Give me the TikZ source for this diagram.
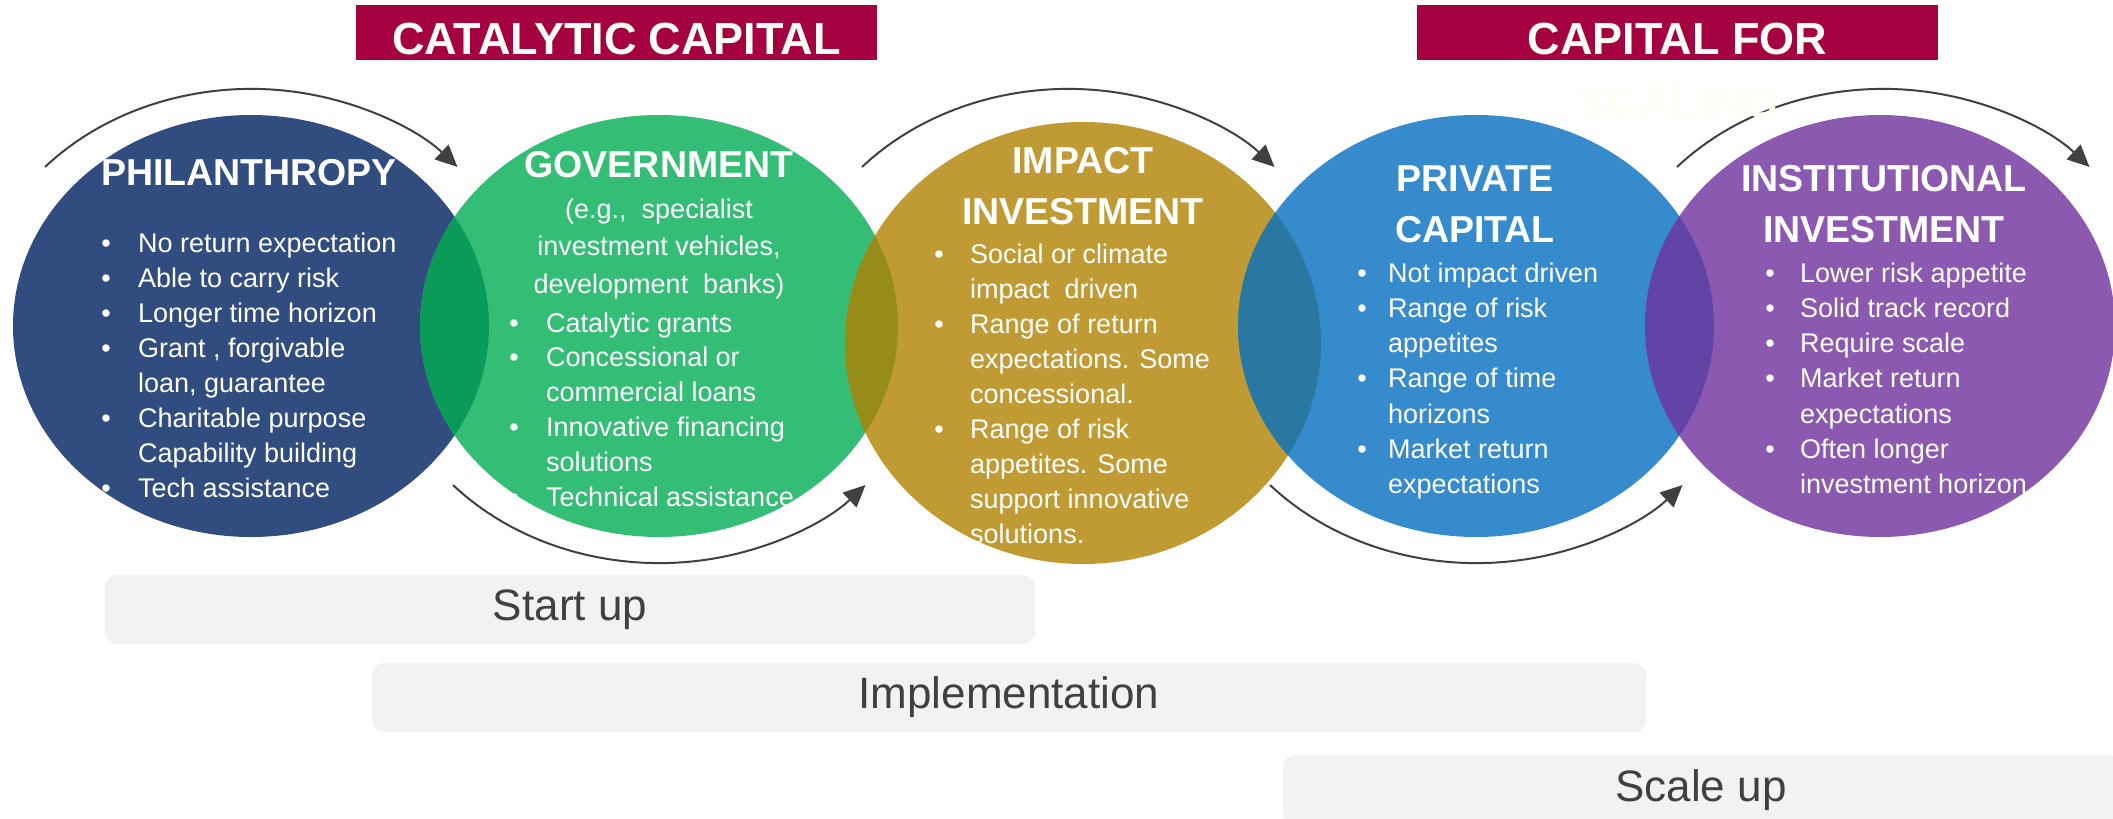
\documentclass[tikz,border=0pt]{standalone}
\usepackage{fontspec}
\setmainfont{Liberation Sans}
\usetikzlibrary{arrows.meta,shapes.geometric}

\definecolor{navyfill}{RGB}{49,76,126}
\definecolor{greenfill}{RGB}{51,189,117}
\definecolor{goldfill}{RGB}{192,155,51}
\definecolor{bluefill}{RGB}{53,139,203}
\definecolor{purplefill}{RGB}{139,90,176}
\definecolor{navygreen}{RGB}{11,155,88}
\definecolor{greengold}{RGB}{152,140,25}
\definecolor{goldblue}{RGB}{40,120,162}
\definecolor{bluepurple}{RGB}{98,67,166}
\definecolor{crimson}{RGB}{165,0,64}
\definecolor{cream}{RGB}{255,255,246}
\definecolor{phasegray}{RGB}{242,242,242}
\definecolor{inkgray}{RGB}{64,64,64}

\tikzset{
  lens/.style={ellipse, inner sep=0pt, draw=none},
  bodytext/.style={inner sep=0pt, text=white, font=\fontsize{27}{32}\selectfont},
  headtext/.style={inner sep=0pt, text=white, font=\fontsize{37.5}{45}\selectfont\bfseries, anchor=base},
  banner/.style={fill=crimson, inner sep=0pt, draw=none, minimum width=521pt, minimum height=55pt},
  bannertext/.style={inner sep=0pt, text=cream, font=\fontsize{45}{54}\selectfont\bfseries, anchor=base},
  phase/.style={fill=phasegray, rounded corners=12pt, inner sep=0pt, text=inkgray, font=\fontsize{44}{52}\selectfont},
  flowarc/.style={draw=inkgray, line width=2pt, -{Triangle[length=22pt,width=20pt]}},
}

% one text column: name, bullet x, text x, first baseline, line pitch, {flag/line,...}
\newcommand\bulletblock[6]{%
  \foreach \lnb/\lnt [count=\ii] in {#6}{%
    \pgfmathsetmacro\lny{#4+(\ii-1)*#5}%
    \node[bodytext, anchor=base west] (#1-\ii) at (#3,\lny) {\lnt};%
    \ifnum\lnb=1 \node[bodytext, anchor=base] (#1-dot\ii) at (#2,\lny) {\textbullet};\fi
  }%
}

\begin{document}
\begin{tikzpicture}[x=1pt, y=-1pt]
\useasboundingbox (0,0) rectangle (2113,819);

% title banners
\node[banner] (catban) at (616.5,32.5) {};
\node[bannertext] (cattxt) at (616.5,54) {CATALYTIC CAPITAL};
\node[banner] (scaleban) at (1677.5,32.5) {};
\node[bannertext] (scaletxt) at (1677.5,54) {CAPITAL FOR};

% the five capital sources
\node[lens, fill=navyfill,   minimum width=476pt, minimum height=422pt] (phil) at (251,326) {};
\node[lens, fill=greenfill,  minimum width=478pt, minimum height=422pt] (gov)  at (659,326) {};
\node[lens, fill=goldfill,   minimum width=476pt, minimum height=442pt] (imp)  at (1083,343) {};
\node[lens, fill=bluefill,   minimum width=476pt, minimum height=422pt] (priv) at (1476,326) {};
\node[lens, fill=purplefill, minimum width=470pt, minimum height=422pt] (inst) at (1880,326) {};

% overlaps between neighbours
\begin{scope}
  \clip (phil.center) ellipse [x radius=238, y radius=211];
  \fill[navygreen] (gov.center) ellipse [x radius=239, y radius=211];
\end{scope}
\begin{scope}
  \clip (gov.center) ellipse [x radius=239, y radius=211];
  \fill[greengold] (imp.center) ellipse [x radius=238, y radius=221];
\end{scope}
\begin{scope}
  \clip (imp.center) ellipse [x radius=238, y radius=221];
  \fill[goldblue] (priv.center) ellipse [x radius=238, y radius=211];
\end{scope}
\begin{scope}
  \clip (priv.center) ellipse [x radius=238, y radius=211];
  \fill[bluepurple] (inst.center) ellipse [x radius=235, y radius=211];
\end{scope}

% headings
\node[headtext] (philhead) at (249,185) {PHILANTHROPY};
\node[headtext] (govhead) at (659,177) {GOVERNMENT};
\node[headtext] (imphead1) at (1083,173) {IMPACT};
\node[headtext] (imphead2) at (1083,224) {INVESTMENT};
\node[headtext] (privhead1) at (1475,191) {PRIVATE};
\node[headtext] (privhead2) at (1475,242) {CAPITAL};
\node[headtext] (insthead1) at (1884,191) {INSTITUTIONAL};
\node[headtext] (insthead2) at (1884,242) {INVESTMENT};

\node[bodytext, anchor=base] (govsub1) at (659,218) {(e.g.,\ \ specialist};
\node[bodytext, anchor=base] (govsub2) at (659,255) {investment vehicles,};
\node[bodytext, anchor=base] (govsub3) at (659,293) {development\ \ banks)};

% bullet lists
\bulletblock{philtxt}{106}{138}{252}{35.1}{1/No return expectation, 1/Able to carry risk,
  1/Longer time horizon, 1/{Grant , forgivable}, 0/{loan, guarantee},
  1/Charitable purpose, 0/Capability building, 1/Tech assistance}
\bulletblock{govtxt}{514}{546}{332}{34.8}{1/Catalytic grants, 1/Concessional or,
  0/commercial loans, 1/Innovative financing, 0/solutions, 1/Technical assistance}
\bulletblock{imptxt}{939}{970}{263}{35}{1/Social or climate, 0/impact\ \ driven,
  1/Range of return, 0/expectations. Some, 0/concessional., 1/Range of risk,
  0/appetites. Some, 0/support innovative, 0/solutions.}
\bulletblock{privtxt}{1362}{1388}{282}{35.3}{1/Not impact driven, 1/Range of risk,
  0/appetites, 1/Range of time, 0/horizons, 1/Market return, 0/expectations}
\bulletblock{insttxt}{1770}{1800}{282}{35.3}{1/Lower risk appetite, 1/Solid track record,
  1/Require scale, 1/Market return, 0/expectations, 1/Often longer, 0/investment horizon}

% flow arrows linking the sources
\coordinate (arcA) at (45,167);
\coordinate (arcB) at (453,485);
\coordinate (arcC) at (862,167);
\coordinate (arcD) at (1270,485);
\coordinate (arcE) at (1677,167);
\draw[flowarc] (arcA) arc[start angle=222.1, end angle=317.9, x radius=278, y radius=237];
\draw[flowarc] (arcB) arc[start angle=137.9, end angle=42.1, x radius=278, y radius=237];
\draw[flowarc] (arcC) arc[start angle=222.1, end angle=317.9, x radius=278, y radius=237];
\draw[flowarc] (arcD) arc[start angle=137.9, end angle=42.1, x radius=278, y radius=237];
\draw[flowarc] (arcE) arc[start angle=222.1, end angle=317.9, x radius=278, y radius=237];

\node[bannertext] (scaletxt2) at (1677.5,117) {SCALING};

% development phases
\node[phase, minimum width=930pt, minimum height=69pt] (startup) at (570,609.5) {Start up};
\node[phase, minimum width=1274pt, minimum height=69pt] (implement) at (1009,697.5) {Implementation};
\node[phase, minimum width=836pt, minimum height=70pt] (scaleup) at (1701,790) {Scale up};
\end{tikzpicture}
\end{document}
